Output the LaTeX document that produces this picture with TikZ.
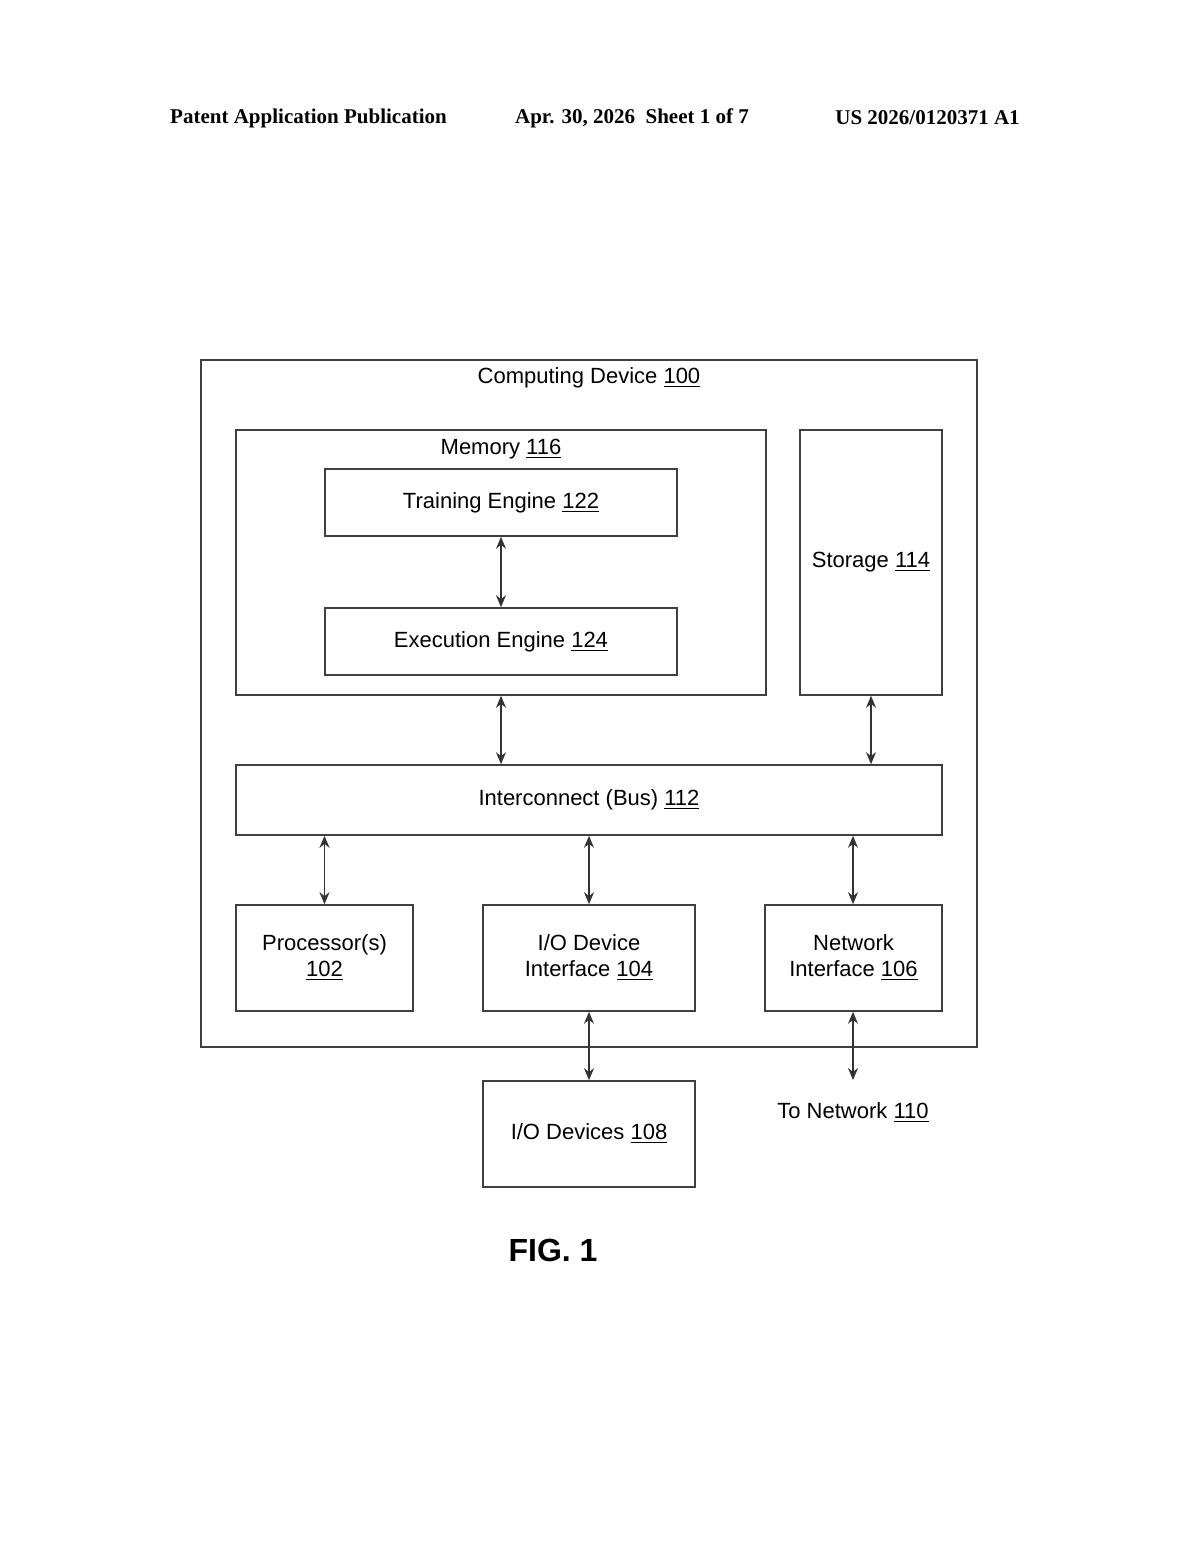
\documentclass[tikz,border=0pt]{standalone}
\usepackage{fontspec}
\setmainfont{Liberation Sans}
\newfontfamily\serifb{Liberation Serif}
\usetikzlibrary{arrows.meta}
\begin{document}
\begin{tikzpicture}[x=0.5pt,y=-0.5pt,
  box/.style={draw=black!75,line width=0.8pt,inner sep=0pt,align=center,font=\fontsize{11}{13}\selectfont},
  lbl/.style={inner sep=0pt,font=\fontsize{11}{13}\selectfont},
  arr/.style={draw=black!80,line width=0.8pt,{Stealth[length=6pt,width=5pt]}-{Stealth[length=6pt,width=5pt]}},
  hdr/.style={inner sep=0pt,font=\serifb\bfseries\fontsize{10.5}{12}\selectfont}]
\useasboundingbox (0,0) rectangle (1200,1547);
\node[hdr] (h1) at (308.5,118) {Patent Application Publication};
\node[hdr] (h2) at (632,118) {Apr. 30, 2026 \ Sheet 1 of 7};
\node[hdr] (h3) at (927.5,118) {US 2026/0120371 A1};
\node[box,minimum width=388pt,minimum height=343.5pt] (out) at (589,703.5) {};
\node[lbl] (outl) at (589,378) {Computing Device \underline{100}};
\node[box,minimum width=265pt,minimum height=132.5pt] (mem) at (501,562.5) {};
\node[lbl] (meml) at (501,449) {Memory \underline{116}};
\node[box,minimum width=176pt,minimum height=33.5pt] (tr) at (501,502.5) {Training Engine \underline{122}};
\node[box,minimum width=176pt,minimum height=33.5pt] (ex) at (501,641.5) {Execution Engine \underline{124}};
\node[box,minimum width=71pt,minimum height=132.5pt] (sto) at (871,562.5) {Storage \underline{114}};
\node[box,minimum width=353pt,minimum height=35pt] (bus) at (589,800) {Interconnect (Bus) \underline{112}};
\node[box,minimum width=88.5pt,minimum height=53pt] (proc) at (324.5,958) {Processor(s)\\\underline{102}};
\node[box,minimum width=106pt,minimum height=53pt] (ioi) at (589,958) {I/O Device\\Interface \underline{104}};
\node[box,minimum width=88.5pt,minimum height=53pt] (net) at (853.5,958) {Network\\Interface \underline{106}};
\node[box,minimum width=106pt,minimum height=53pt] (iod) at (589,1134) {I/O Devices \underline{108}};
\node[lbl] (tonet) at (853,1113) {To Network \underline{110}};
\coordinate (netend) at (853,1080);
\node[inner sep=0pt,font=\bfseries\fontsize{16}{18}\selectfont] (fig) at (553,1250) {FIG. 1};
\draw[arr] (tr.south) -- (ex.north);
\draw[arr] (mem.south) -- (mem.south |- bus.north);
\draw[arr] (sto.south) -- (sto.south |- bus.north);
\draw[arr] (proc.north |- bus.south) -- (proc.north);
\draw[arr] (ioi.north |- bus.south) -- (ioi.north);
\draw[arr] (netend |- bus.south) -- (netend |- net.north);
\draw[arr] (ioi.south) -- (iod.north);
\draw[arr] (netend |- net.south) -- (netend);
\end{tikzpicture}
\end{document}
